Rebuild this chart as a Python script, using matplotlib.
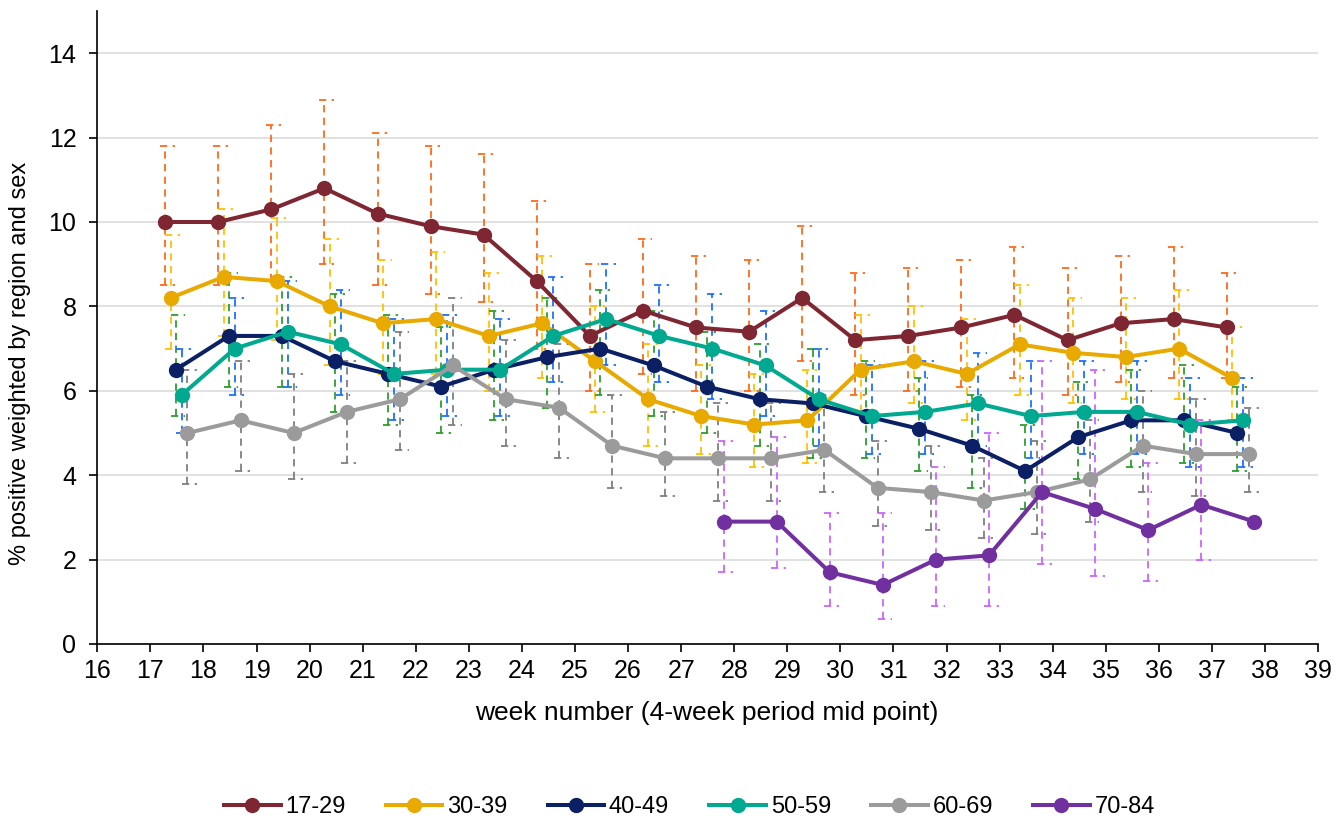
import matplotlib.pyplot as plt
import numpy as np

# x positions: 4-week period mid point, each age group nudged a little
weeks = np.arange(17, 38)
weeks_old = np.arange(27, 38)

groups = ["17-29", "30-39", "40-49", "50-59", "60-69", "70-84"]
offsets = [0.28, 0.38, 0.48, 0.59, 0.70, 0.80]
line_cols = ["#7E2631", "#E8A900", "#0B1F65", "#00A98F", "#9B9B9B", "#7030A0"]
err_cols = ["#FF6A1A", "#FFC000", "#2E9E2E", "#1E6FFF", "#7F7F7F", "#C966FF"]

v_1729 = [10.0, 10.0, 10.3, 10.8, 10.2, 9.9, 9.7, 8.6, 7.3, 7.9, 7.5, 7.4, 8.2, 7.2, 7.3, 7.5, 7.8, 7.2, 7.6, 7.7, 7.5]
hi_1729 = [11.8, 11.8, 12.3, 12.9, 12.1, 11.8, 11.6, 10.5, 9.0, 9.6, 9.2, 9.1, 9.9, 8.8, 8.9, 9.1, 9.4, 8.9, 9.2, 9.4, 8.8]
lo_1729 = [8.5, 8.5, 8.6, 9.0, 8.5, 8.3, 8.1, 7.0, 6.0, 6.4, 6.0, 6.0, 6.7, 5.9, 6.0, 6.1, 6.3, 5.9, 6.2, 6.3, 6.3]

v_3039 = [8.2, 8.7, 8.6, 8.0, 7.6, 7.7, 7.3, 7.6, 6.7, 5.8, 5.4, 5.2, 5.3, 6.5, 6.7, 6.4, 7.1, 6.9, 6.8, 7.0, 6.3]
hi_3039 = [9.7, 10.3, 10.1, 9.6, 9.1, 9.3, 8.8, 9.2, 8.0, 7.1, 6.6, 6.4, 6.5, 7.8, 8.0, 7.7, 8.5, 8.2, 8.2, 8.4, 7.5]
lo_3039 = [7.0, 7.3, 7.2, 6.6, 6.4, 6.4, 6.0, 6.3, 5.5, 4.7, 4.5, 4.2, 4.3, 5.5, 5.7, 5.3, 5.9, 5.7, 5.8, 5.8, 5.3]

v_4049 = [6.5, 7.3, 7.3, 6.7, 6.4, 6.1, 6.5, 6.8, 7.0, 6.6, 6.1, 5.8, 5.7, 5.4, 5.1, 4.7, 4.1, 4.9, 5.3, 5.3, 5.0]
hi_4049 = [7.8, 8.8, 8.7, 8.3, 7.8, 7.5, 7.9, 8.2, 8.4, 7.9, 7.4, 7.1, 7.0, 6.7, 6.3, 5.9, 5.2, 6.2, 6.5, 6.6, 6.1]
lo_4049 = [5.4, 6.1, 6.1, 5.5, 5.2, 5.0, 5.3, 5.6, 5.9, 5.4, 5.0, 4.7, 4.4, 4.4, 4.1, 3.7, 3.2, 3.9, 4.2, 4.3, 4.1]

v_5059 = [5.9, 7.0, 7.4, 7.1, 6.4, 6.5, 6.5, 7.3, 7.7, 7.3, 7.0, 6.6, 5.8, 5.4, 5.5, 5.7, 5.4, 5.5, 5.5, 5.2, 5.3]
hi_5059 = [7.0, 8.2, 8.6, 8.4, 7.7, 7.8, 7.7, 8.7, 9.0, 8.5, 8.3, 7.9, 7.0, 6.6, 6.7, 6.9, 6.7, 6.7, 6.7, 6.3, 6.3]
lo_5059 = [5.0, 5.9, 6.1, 5.9, 5.3, 5.4, 5.4, 6.2, 6.6, 6.2, 5.8, 5.4, 4.7, 4.5, 4.5, 4.7, 4.4, 4.5, 4.5, 4.2, 4.2]

v_6069 = [5.0, 5.3, 5.0, 5.5, 5.8, 6.6, 5.8, 5.6, 4.7, 4.4, 4.4, 4.4, 4.6, 3.7, 3.6, 3.4, 3.6, 3.9, 4.7, 4.5, 4.5]
hi_6069 = [6.5, 6.7, 6.4, 6.7, 7.4, 8.2, 7.2, 7.1, 5.9, 5.5, 5.7, 5.7, 5.9, 4.8, 4.7, 4.4, 4.8, 5.3, 6.0, 5.8, 5.6]
lo_6069 = [3.8, 4.1, 3.9, 4.3, 4.6, 5.2, 4.7, 4.4, 3.7, 3.5, 3.4, 3.4, 3.6, 2.8, 2.7, 2.5, 2.6, 2.9, 3.6, 3.5, 3.6]

v_7084 = [2.9, 2.9, 1.7, 1.4, 2.0, 2.1, 3.6, 3.2, 2.7, 3.3, 2.9]
hi_7084 = [4.8, 4.9, 3.1, 3.1, 4.2, 5.0, 6.7, 6.5, 4.3, 5.3, np.nan]
lo_7084 = [1.7, 1.8, 0.9, 0.6, 0.9, 0.9, 1.9, 1.6, 1.5, 2.0, np.nan]

vals = [v_1729, v_3039, v_4049, v_5059, v_6069, v_7084]
his = [hi_1729, hi_3039, hi_4049, hi_5059, hi_6069, hi_7084]
los = [lo_1729, lo_3039, lo_4049, lo_5059, lo_6069, lo_7084]
xweeks = [weeks, weeks, weeks, weeks, weeks, weeks_old]

plt.rcParams['font.family'] = ['Liberation Sans', 'DejaVu Sans']

fig = plt.figure(figsize=(13.36, 8.21), dpi=100)
ax = fig.add_axes([0.0728, 0.2156, 0.9138, 0.771])

dash = (0, (4, 3))
for i in range(len(groups)):
    x = xweeks[i] + offsets[i]
    hi = np.array(his[i], dtype=float)
    lo = np.array(los[i], dtype=float)
    ok = ~np.isnan(hi)
    ax.vlines(x[ok], lo[ok], hi[ok], colors=err_cols[i], linestyles=dash, lw=1.3, zorder=2)
    ax.hlines(hi[ok], x[ok] - 0.1, x[ok] + 0.18, colors=err_cols[i], linestyles=dash, lw=1.3, zorder=2)
    ax.hlines(lo[ok], x[ok] - 0.1, x[ok] + 0.18, colors=err_cols[i], linestyles=dash, lw=1.3, zorder=2)

for i in range(len(groups)):
    x = xweeks[i] + offsets[i]
    ax.plot(x, vals[i], color=line_cols[i], lw=2.9, marker='o', ms=10,
            label=groups[i], zorder=3 + i)

ax.set_xlim(16, 39)
ax.set_ylim(0, 15)
ax.set_xticks(np.arange(16, 40))
ax.set_yticks(np.arange(0, 15, 2))
ax.grid(axis='y', color='#D9D9D9', lw=1.1, zorder=0)
ax.set_axisbelow(True)
for s in ['top', 'right']:
    ax.spines[s].set_visible(False)
ax.spines['left'].set_linewidth(1.2)
ax.spines['bottom'].set_linewidth(1.2)
ax.tick_params(axis='both', direction='out', length=6, width=1.2, labelsize=18, colors='black')
ax.tick_params(axis='y', pad=9)
ax.tick_params(axis='x', pad=5)

ax.set_xlabel("week number (4-week period mid point)", fontsize=19)
ax.set_ylabel("% positive weighted by region and sex", fontsize=17)
ax.xaxis.set_label_coords(0.4995, -0.09)
ax.yaxis.set_label_coords(-0.054, 0.444)

fig.legend(loc='lower center', bbox_to_anchor=(0.516, -0.022), ncol=6, frameon=False,
           handlelength=2.4, columnspacing=1.7, handletextpad=0.2,
           prop={'family': 'Liberation Sans', 'size': 17})

plt.savefig('out.png', dpi=100)
